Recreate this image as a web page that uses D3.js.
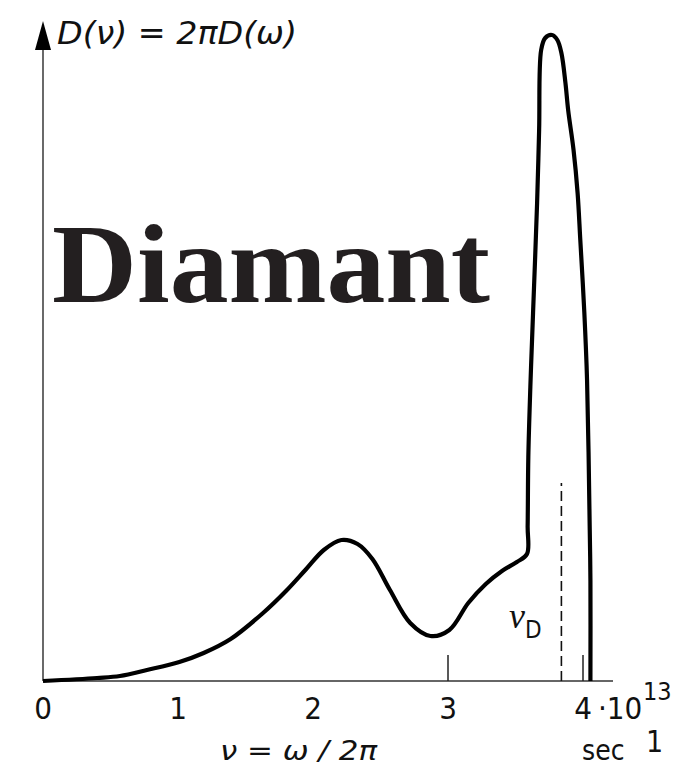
<!DOCTYPE html>
<html>
<head>
<meta charset="utf-8">
<script src="https://cdn.jsdelivr.net/npm/d3@7"></script>
<style>
  html, body { margin: 0; padding: 0; background: #fff; }
  svg { display: block; }
</style>
</head>
<body>
<svg id="chart" width="676" height="771"></svg>
<script>
// Phonon density of states of diamond, D(nu) versus nu (units of 10^13 s^-1)
const freq = [0, 0.40, 0.57, 0.77, 1.01, 1.19, 1.39, 1.63, 1.80, 1.95, 2.08, 2.21, 2.33, 2.44, 2.57,
  2.72, 2.87, 3.01, 3.15, 3.28, 3.40, 3.51, 3.585, 3.59, 3.595, 3.61, 3.63, 3.66, 3.675, 3.69,
  3.72, 3.77, 3.81, 3.84, 3.87, 3.89, 3.93, 3.96, 3.98, 4.01, 4.03, 4.05, 4.055, 4.055];
const density = [0, 0.03, 0.05, 0.11, 0.19, 0.28, 0.42, 0.68, 0.90, 1.12, 1.31, 1.41, 1.37, 1.22, 0.91,
  0.58, 0.45, 0.51, 0.78, 0.97, 1.10, 1.19, 1.27, 1.55, 2.24, 2.94, 3.68, 4.78, 5.51, 6.31,
  6.43, 6.46, 6.41, 6.28, 5.98, 5.71, 5.31, 4.88, 4.41, 3.68, 3.01, 1.51, 1.0, 0];

const tickValues = [0, 1, 2, 3, 4];
const tickLabels = ["0", "1", "2", "3", "4"];
const markedTicks = [3, 4];          // ticks drawn as short verticals above the axis
const debyeFreq = 3.84;              // nu_D
const debyeTop = 1.98;
const title = "Diamant";

const svg = d3.select("#chart");
const x = d3.scaleLinear().domain([0, 4]).range([43, 583]);
const y = d3.scaleLinear().domain([0, 6.6]).range([681, 21]);

const pts = freq.map((f, i) => [f, density[i]]);

// axes
svg.append("line")
  .attr("x1", x(0)).attr("x2", 613).attr("y1", y(0)).attr("y2", y(0))
  .attr("stroke", "#333").attr("stroke-width", 1.6);
svg.append("line")
  .attr("x1", x(0)).attr("x2", x(0)).attr("y1", y(0)).attr("y2", 40)
  .attr("stroke", "#444").attr("stroke-width", 1.6);
svg.append("path")
  .attr("d", `M${x(0)},21 L${x(0) + 8},50 L${x(0) - 8},50 Z`)
  .attr("fill", "#000");

// short tick marks
svg.selectAll("line.tk").data(markedTicks).enter().append("line")
  .attr("class", "tk")
  .attr("x1", d => x(d)).attr("x2", d => x(d))
  .attr("y1", y(0)).attr("y2", y(0) - 26)
  .attr("stroke", "#222").attr("stroke-width", 1.5);

// Debye frequency marker
svg.append("line")
  .attr("x1", x(debyeFreq)).attr("x2", x(debyeFreq))
  .attr("y1", y(0)).attr("y2", y(debyeTop))
  .attr("stroke", "#111").attr("stroke-width", 1.6)
  .attr("stroke-dasharray", "10,5");

// density curve
const line = d3.line()
  .x(d => x(d[0])).y(d => y(d[1]))
  .curve(d3.curveCatmullRom.alpha(0.5));
svg.append("path")
  .datum(pts)
  .attr("d", line)
  .attr("fill", "none")
  .attr("stroke", "#000")
  .attr("stroke-width", 4.2)
  .attr("stroke-linejoin", "round");

// tick labels
const numFont = "'Liberation Sans Narrow','DejaVu Sans Condensed','Liberation Sans',sans-serif";
svg.selectAll("text.tl").data(tickValues).enter().append("text")
  .attr("class", "tl")
  .attr("x", d => x(d))
  .attr("y", 719)
  .attr("text-anchor", "middle")
  .attr("font-family", numFont)
  .attr("font-size", 31)
  .attr("fill", "#111")
  .text((d, i) => tickLabels[i]);

svg.append("text")
  .attr("x", 598).attr("y", 719)
  .attr("font-family", numFont).attr("font-size", 31).attr("fill", "#111")
  .text("\u00b710");
svg.append("text")
  .attr("x", 643).attr("y", 700)
  .attr("font-family", numFont).attr("font-size", 25).attr("fill", "#111")
  .text("13");

// axis titles
svg.append("text")
  .attr("x", 220).attr("y", 760)
  .attr("font-family", "'DejaVu Sans Condensed','DejaVu Sans',sans-serif")
  .attr("font-style", "italic").attr("font-size", 27).attr("fill", "#111")
  .attr("textLength", 157).attr("lengthAdjust", "spacingAndGlyphs")
  .text("\u03bd = \u03c9 / 2\u03c0");
svg.append("text")
  .attr("x", 582).attr("y", 760)
  .attr("font-family", numFont).attr("font-size", 28).attr("fill", "#111")
  .text("sec");
svg.append("text")
  .attr("x", 646).attr("y", 752)
  .attr("font-family", numFont).attr("font-size", 30).attr("fill", "#111")
  .text("1");

svg.append("text")
  .attr("x", 57).attr("y", 44)
  .attr("font-family", "'DejaVu Sans Condensed','DejaVu Sans',sans-serif")
  .attr("font-style", "italic").attr("font-size", 32).attr("fill", "#111")
  .attr("textLength", 240).attr("lengthAdjust", "spacingAndGlyphs")
  .text("D(\u03bd) = 2\u03c0D(\u03c9)");

// nu_D label
const nuD = svg.append("text")
  .attr("x", 509).attr("y", 628)
  .attr("fill", "#111");
nuD.append("tspan")
  .attr("font-family", "'Liberation Serif','DejaVu Serif',serif")
  .attr("font-style", "italic").attr("font-size", 36)
  .text("\u03bd");
nuD.append("tspan")
  .attr("dy", 10)
  .attr("font-family", numFont).attr("font-size", 24)
  .text("D");

// material name
svg.append("text")
  .attr("x", 52).attr("y", 302)
  .attr("font-family", "'Liberation Serif','Times New Roman',serif")
  .attr("font-weight", "bold").attr("font-size", 112)
  .attr("fill", "#231f20")
  .attr("textLength", 438).attr("lengthAdjust", "spacingAndGlyphs")
  .text(title);
</script>
</body>
</html>
